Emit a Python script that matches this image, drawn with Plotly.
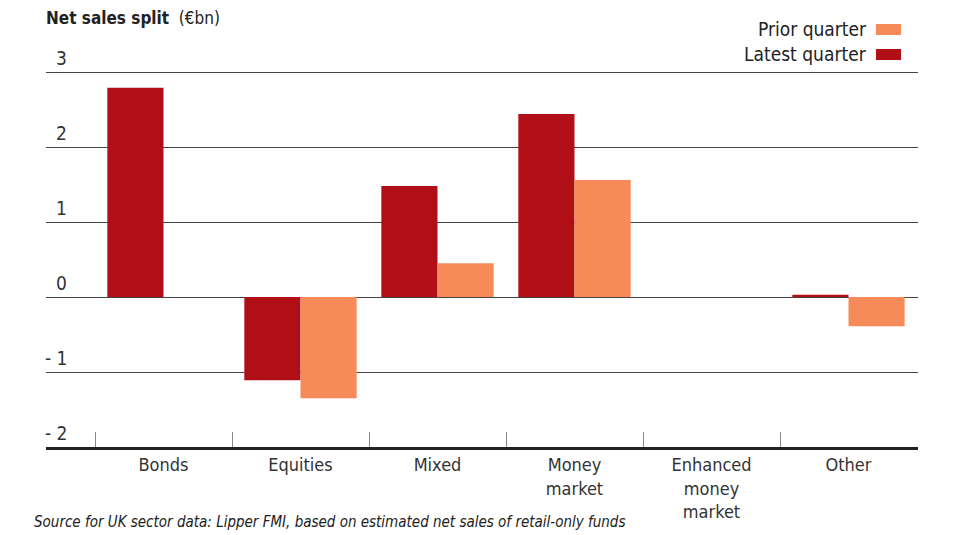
import plotly.graph_objects as go

categories = ["Bonds", "Equities", "Mixed", "Money<br>market", "Enhanced<br>money<br>market", "Other"]
latest_quarter = [2.79, -1.11, 1.48, 2.44, 0, 0.03]
prior_quarter = [0, -1.35, 0.45, 1.56, 0, -0.39]
y_ticks = [3, 2, 1, 0, -1, -2]
y_tick_labels = ["3", "2", "1", "0", "- 1", "- 2"]

LATEST = "#b00f18"
PRIOR = "#f68b59"
FONT = "DejaVu Sans Condensed, Liberation Sans Narrow, Roboto, sans-serif"
TXT = "#222222"

W, H = 957, 535
L, R, T, B = 46, 39, 70, 88
pw = W - L - R
ph = H - T - B
band = 137.0
x0 = -0.5 - (95 - L) / band
x1 = x0 + pw / band
px_per_unit = 75.0
y_top = 3 + (72 - T) / px_per_unit


def px(x):
    return (x - L) / pw


def py(y):
    return 1 - (y - T) / ph


fig = go.Figure()
fig.add_bar(x=categories, y=latest_quarter, name="Latest quarter",
            marker=dict(color=LATEST, line=dict(width=0)))
fig.add_bar(x=categories, y=prior_quarter, name="Prior quarter",
            marker=dict(color=PRIOR, line=dict(width=0)))

fig.update_layout(
    width=W, height=H,
    margin=dict(l=L, r=R, t=T, b=B),
    paper_bgcolor="white", plot_bgcolor="white",
    barmode="group", bargap=0.18, bargroupgap=0,
    showlegend=False,
    font=dict(family=FONT, size=18, color=TXT),
    xaxis=dict(type="category", range=[x0, x1], showgrid=False,
               tickson="boundaries", ticks="inside", ticklen=15,
               tickcolor="#888888", tickwidth=1,
               showline=True, linecolor="#222222", linewidth=2.5,
               tickfont=dict(family=FONT, size=18, color="#333333"),
               fixedrange=True),
    yaxis=dict(range=[-2, y_top], tickvals=y_ticks, showticklabels=False,
               showgrid=True, gridcolor="#444444", gridwidth=1,
               zeroline=False, fixedrange=True),
)

for v, t in zip(y_ticks, y_tick_labels):
    fig.add_annotation(x=px(69), xref="paper", y=v, yref="y",
                       text=t, showarrow=False, xanchor="right", yanchor="bottom",
                       yshift=1, font=dict(family=FONT, size=19, color="#333333"))

# title
fig.add_annotation(x=px(44), y=py(18), xref="paper", yref="paper",
                   xanchor="left", yanchor="middle", showarrow=False,
                   text="<b>Net sales split</b>  (€bn)",
                   font=dict(family=FONT, size=17, color=TXT))

# legend (text + swatch)
for label, color, yc in [("Prior quarter", PRIOR, 29), ("Latest quarter", LATEST, 54)]:
    fig.add_annotation(x=px(869), y=py(yc), xref="paper", yref="paper",
                       xanchor="right", yanchor="middle", showarrow=False,
                       text=label, font=dict(family=FONT, size=19, color=TXT))
    fig.add_shape(type="rect", xref="paper", yref="paper",
                  x0=px(876), x1=px(901), y0=py(yc + 6), y1=py(yc - 5),
                  fillcolor=color, line=dict(width=0))

# source
fig.add_annotation(x=px(32), y=py(522), xref="paper", yref="paper",
                   xanchor="left", yanchor="middle", showarrow=False,
                   text="<i>Source for UK sector data: Lipper FMI, based on estimated net sales of retail-only funds</i>",
                   font=dict(family=FONT, size=15, color=TXT))

fig.write_html("out.html", config={"displayModeBar": False},
               post_script="document.body.style.margin='0';")
